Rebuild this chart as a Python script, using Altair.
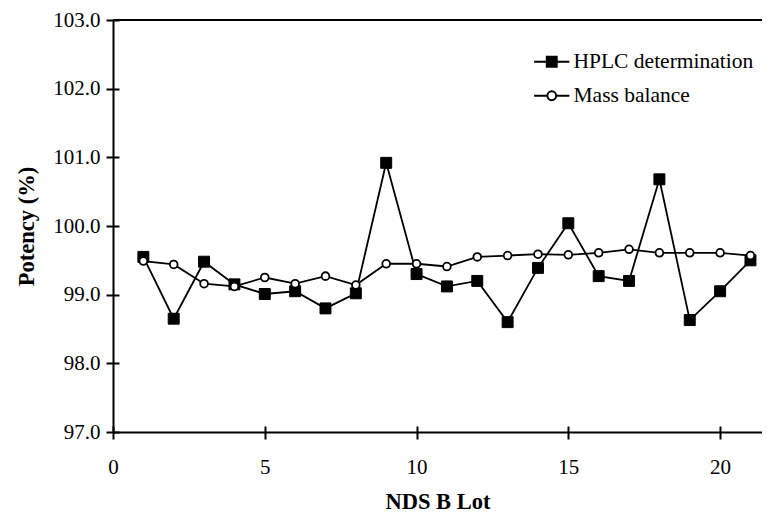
import altair as alt
import pandas as pd

lots = list(range(1, 22))
hplc = [99.55, 98.65, 99.48, 99.15, 99.01, 99.05, 98.80, 99.02, 100.92, 99.30,
        99.12, 99.20, 98.60, 99.39, 100.04, 99.27, 99.20, 100.68, 98.63, 99.05, 99.50]
mass = [99.49, 99.44, 99.16, 99.12, 99.25, 99.16, 99.27, 99.14, 99.45, 99.45,
        99.41, 99.55, 99.57, 99.59, 99.58, 99.61, 99.66, 99.61, 99.61, 99.61, 99.57]
series_names = ["HPLC determination", "Mass balance"]
x_ticks = [0, 5, 10, 15, 20]
y_ticks = [97, 98, 99, 100, 101, 102, 103]

df = pd.DataFrame({
    "lot": lots * 2,
    "potency": hplc + mass,
    "series": [series_names[0]] * len(lots) + [series_names[1]] * len(lots),
})

FONT = "Liberation Serif, Times New Roman, serif"
W, H = 649, 412
x_scale = alt.Scale(domain=[0, 21.38], nice=False, zero=False)
y_scale = alt.Scale(domain=[97, 103], nice=False, zero=False)

x_enc = alt.X("lot:Q", scale=x_scale,
              axis=alt.Axis(values=x_ticks, title="NDS B Lot", format="d", labelFlush=False,
                            orient="bottom"))
y_enc = alt.Y("potency:Q", scale=y_scale,
              axis=alt.Axis(values=y_ticks, title="Potency (%)", format=".1f", labelFlush=False,
                            orient="left"))

# inner halves of the tick marks (ticks cross the axis line)
x_in = alt.X("lot:Q", scale=x_scale,
             axis=alt.Axis(values=x_ticks, title=None, labels=False, domain=False,
                           tickSize=6, offset=-6, orient="bottom"))
y_in = alt.Y("potency:Q", scale=y_scale,
             axis=alt.Axis(values=y_ticks, title=None, labels=False, domain=False,
                           tickSize=6, offset=-6, orient="left"))

# legend symbols: marker with a line segment through it
path_sq = "M-3.2,0H3.2M-0.9,-0.9H0.9V0.9H-0.9Z"
path_ci = "M-3.2,0H-0.8M0.8,0H3.2M-0.8,0A0.8,0.8 0 1,0 0.8,0A0.8,0.8 0 1,0 -0.8,0Z"

base = alt.Chart(df)

lines = base.mark_line(color="black", strokeWidth=1.8).encode(
    x=x_enc, y=y_enc, detail="series:N"
)

pts_hplc = base.transform_filter(alt.datum.series == series_names[0]).mark_point(
    shape="square", filled=True, fill="black", stroke="black", strokeWidth=1, size=120, opacity=1
).encode(x=x_enc, y=y_enc)

pts_mass = base.transform_filter(alt.datum.series == series_names[1]).mark_point(
    shape="circle", filled=True, fill="white", stroke="black", strokeWidth=1.8, size=60, opacity=1
).encode(x=x_enc, y=y_enc)

leg = alt.Legend(title=None, symbolOpacity=1, labelLimit=400)
legend_layer = base.mark_point(filled=True, opacity=0, strokeWidth=2).encode(
    x=x_enc, y=y_enc,
    shape=alt.Shape("series:N", scale=alt.Scale(domain=series_names, range=[path_sq, path_ci]), legend=leg),
    fill=alt.Fill("series:N", scale=alt.Scale(domain=series_names, range=["black", "white"]), legend=leg),
    stroke=alt.Stroke("series:N", scale=alt.Scale(domain=series_names, range=["black", "black"]), legend=leg),
)

frame = base.mark_rule(color="black", strokeWidth=2).encode(
    x=alt.value(0), x2=alt.value(W), y=alt.value(0)
)

main = alt.layer(lines, pts_hplc, pts_mass, legend_layer, frame)
inner_ticks = base.mark_point(opacity=0).encode(x=x_in, y=y_in)

chart = alt.layer(main, inner_ticks).resolve_axis(x="independent", y="independent").properties(
    width=W, height=H,
    autosize=alt.AutoSizeParams(type="none"),
    padding={"left": 105, "top": 12, "right": 0, "bottom": 81},
    background="white",
).configure_view(stroke=None).configure_axis(
    domainColor="black", domainWidth=2, tickColor="black", tickWidth=2, tickSize=7,
    labelFont=FONT, labelFontSize=21, labelColor="black", grid=False,
    titleFont=FONT, titleFontSize=22.5, titleFontWeight="bold", titleColor="black",
).configure_axisY(labelPadding=6, titlePadding=14).configure_axisX(
    labelPadding=17, titlePadding=13
).configure_legend(
    orient="none", legendX=428, legendY=31,
    labelFont=FONT, labelFontSize=21.5, labelColor="black",
    symbolSize=121, symbolStrokeColor="black", symbolStrokeWidth=2,
    labelOffset=11, rowPadding=11, padding=0, labelLimit=400,
)

chart.save("out.html", embed_options={"renderer": "svg", "actions": False})
